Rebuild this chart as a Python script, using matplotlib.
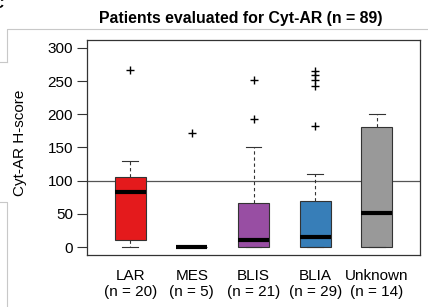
import matplotlib
matplotlib.use("Agg")
from matplotlib import pyplot as plt
from matplotlib.lines import Line2D

plt.rcParams['font.family'] = ['Liberation Sans', 'DejaVu Sans']

# box statistics
groups = ['LAR', 'MES', 'BLIS', 'BLIA', 'Unknown']
counts = [20, 5, 21, 29, 14]
q1 = [10, 0, 0, 0, 0]
med = [83, 0, 10, 15, 51]
q3 = [105, 0, 66, 70, 181]
whis_lo = [0, 0, 0, 0, 0]
whis_hi = [129, 0, 150, 110, 200]
outliers = [[267], [172], [252, 193], [265, 260, 252, 242, 182], []]
colors = ['#E41A1C', '#4DAF4A', '#984EA3', '#377EB8', '#999999']

stats = []
for i in range(len(groups)):
    stats.append({'q1': q1[i], 'med': med[i], 'q3': q3[i],
                  'whislo': whis_lo[i], 'whishi': whis_hi[i],
                  'fliers': outliers[i]})

fig = plt.figure(figsize=(4.28, 3.07), dpi=100)
ax = fig.add_axes([0.2033, 0.1694, 0.778, 0.7003])

bp = ax.bxp(stats, positions=range(1, 6), widths=0.5, patch_artist=True,
            boxprops=dict(edgecolor='#333333', linewidth=0.8),
            medianprops=dict(color='black', linewidth=3.0, solid_capstyle='butt'),
            whiskerprops=dict(color='#333333', linewidth=0.8, linestyle=(0, (3, 2.5))),
            capprops=dict(color='#333333', linewidth=0.8),
            flierprops=dict(marker='+', markeredgecolor='black', markersize=6,
                            markeredgewidth=1.0, linestyle='none'),
            capwidths=0.25)
for patch, c in zip(bp['boxes'], colors):
    patch.set_facecolor(c)

ax.axhline(100, color='#555555', linewidth=0.9, zorder=0.5)

ax.set_xlim(0.3, 5.7)
ax.set_ylim(-12, 312)
ax.set_yticks([0, 50, 100, 150, 200, 250, 300])
ax.tick_params(axis='y', labelsize=11, length=7, width=0.8, color='#333333', pad=3)
ax.set_xticks(range(1, 6))
ax.set_xticklabels([g + '\n(n = ' + str(n) + ')' for g, n in zip(groups, counts)],
                   fontsize=11, linespacing=1.15)
ax.tick_params(axis='x', length=0, pad=10)
for s in ax.spines.values():
    s.set_color('#333333')
    s.set_linewidth(0.9)

ax.set_ylabel('Cyt-AR H-score', fontsize=11)
ax.yaxis.set_label_coords(-0.18, 0.52)

fig.text(240.5 / 428, 1 - 18.5 / 307, 'Patients evaluated for Cyt-AR (n = 89)',
         ha='center', va='center', fontsize=11.4, fontweight='bold')

# light panel borders from the source layout
def fig_line(xs, ys):
    fig.add_artist(Line2D([x / 428 for x in xs], [1 - y / 307 for y in ys],
                          color='#c8c8c8', linewidth=0.8))

fig_line([7, 7, 428], [62, 29, 29])
fig_line([0, 7], [62, 62])
fig_line([0, 7, 7], [202, 202, 307])
# edge of the panel letter, cut off in the source
fig.text(3 / 428, 1 + 3 / 307, 'C', ha='right', va='top', fontsize=11, fontweight='bold')

fig.savefig('out.png', dpi=100)
